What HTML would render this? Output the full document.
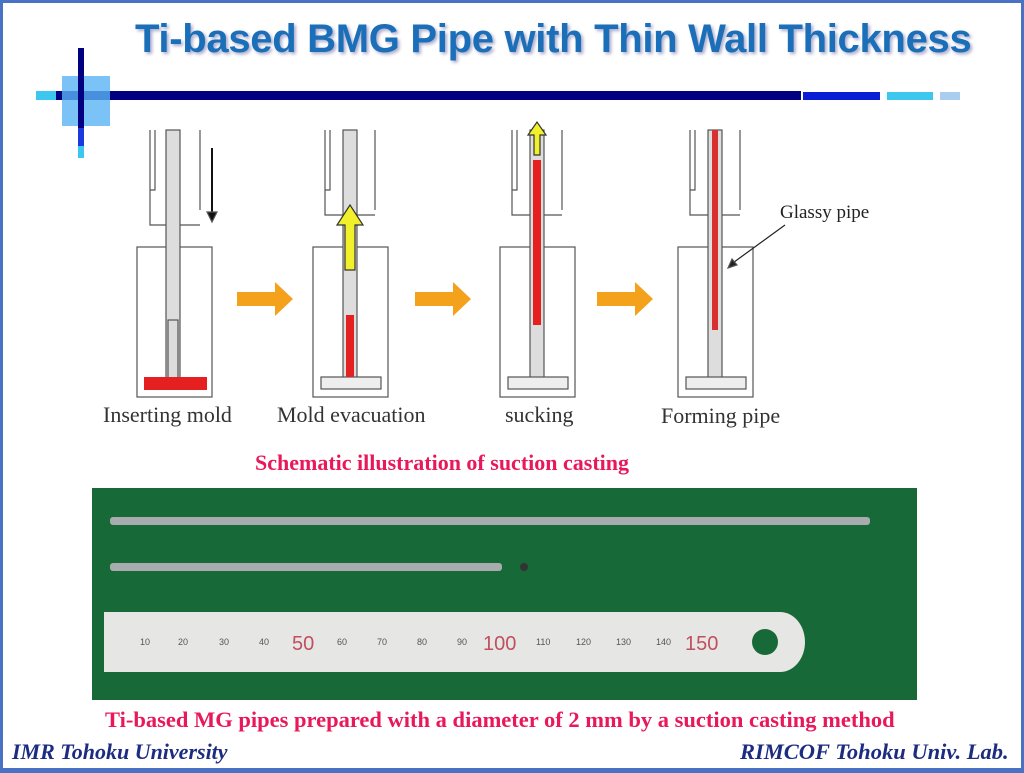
<!DOCTYPE html>
<html><head><meta charset="utf-8"><style>
body{margin:0;width:1024px;height:773px;overflow:hidden;background:#fff;font-family:"Liberation Serif",serif}
.frame{position:absolute;left:0;top:0;width:1018px;height:765px;border:3px solid #4a72c4;border-bottom-width:5px;background:#fff}
.t{position:absolute;white-space:nowrap}
</style></head><body>
<div class="frame"></div>
<div class="t" style="left:135px;top:17px;font-family:'Liberation Sans',sans-serif;font-weight:bold;font-size:40px;color:#1a6fb8;letter-spacing:-0.3px;text-shadow:2px 2px 3px #aac">Ti-based BMG Pipe with Thin Wall Thickness</div>
<svg style="position:absolute;left:0;top:0" width="1024" height="773">
<rect x="36" y="91" width="20" height="9" fill="#3dc6ee"/>
<rect x="56" y="91" width="745" height="9" fill="#000080"/>
<rect x="803" y="92" width="77" height="8" fill="#0a1ed8"/>
<rect x="887" y="92" width="46" height="8" fill="#3dc6ee"/>
<rect x="940" y="92" width="20" height="8" fill="#a8cdef"/>
<rect x="62" y="76" width="48" height="50" fill="#5ab4f4" opacity="0.8"/>
<rect x="78" y="48" width="6" height="80" fill="#000080"/>
<rect x="78" y="128" width="6" height="18" fill="#1a3ae0"/>
<rect x="78" y="146" width="6" height="12" fill="#3dc6ee"/>
<g stroke="#555" fill="none" stroke-width="1.2">
<rect x="137" y="247" width="75" height="150"/>
<path d="M150 130V190h5V130M200 130V210M150 190v35h50"/>
<rect x="166" y="130" width="14" height="250" fill="#ddd"/>
<rect x="168" y="320" width="10" height="60"/>
<path d="M212 148v70" stroke="#111" stroke-width="2"/>
<path d="M207 212l5 10 5-10z" fill="#111"/>
<rect x="144" y="377" width="63" height="13" fill="#e62020" stroke="none"/>
<rect x="313" y="247" width="75" height="150"/>
<path d="M325 130V190h5V130M375 130V210M325 190v25h50"/>
<rect x="343" y="130" width="14" height="250" fill="#ddd"/>
<rect x="321" y="377" width="60" height="12" fill="#eee"/>
<rect x="346" y="315" width="8" height="62" fill="#e62020" stroke="none"/>
<path d="M345 270v-45h-8l13-20 13 20h-8v45z" fill="#f2f02a" stroke="#333"/>
<rect x="500" y="247" width="75" height="150"/>
<path d="M512 130V190h5V130M562 130V210M512 190v25h50"/>
<rect x="530" y="130" width="14" height="250" fill="#ddd"/>
<rect x="508" y="377" width="60" height="12" fill="#eee"/>
<rect x="533" y="160" width="8" height="165" fill="#e62020" stroke="none"/>
<path d="M534 155v-20h-6l9-13 9 13h-6v20z" fill="#f2f02a" stroke="#333"/>
<rect x="678" y="247" width="75" height="150"/>
<path d="M690 130V190h5V130M740 130V210M690 190v25h50"/>
<rect x="708" y="130" width="14" height="250" fill="#ddd"/>
<rect x="686" y="377" width="60" height="12" fill="#eee"/>
<rect x="712" y="130" width="6" height="200" fill="#d83030" stroke="none"/>
<path d="M785 225l-55 40" stroke="#222"/>
<path d="M728 268l4-9 5 6z" fill="#222"/>
</g>
<g fill="#f4a11c">
<path d="M237 292h38v-10l18 17-18 17v-10h-38z"/>
<path d="M415 292h38v-10l18 17-18 17v-10h-38z"/>
<path d="M597 292h38v-10l18 17-18 17v-10h-38z"/>
</g>
<rect x="92" y="488" width="825" height="212" fill="#176a38"/>
<rect x="110" y="517" width="760" height="8" rx="3" fill="#a9acae"/>
<rect x="110" y="563" width="392" height="8" rx="3" fill="#a9acae"/>
<circle cx="524" cy="567" r="4" fill="#333"/>
<path d="M104 612H780a25 30 0 0 1 0 60H104z" fill="#e6e6e4"/>
<circle cx="765" cy="642" r="13" fill="#176a38"/>
<g font-family="Liberation Sans,sans-serif" font-size="9" fill="#555">
<text x="140" y="645">10</text><text x="178" y="645">20</text><text x="219" y="645">30</text><text x="259" y="645">40</text>
<text x="337" y="645">60</text><text x="377" y="645">70</text><text x="417" y="645">80</text><text x="457" y="645">90</text>
<text x="536" y="645">110</text><text x="576" y="645">120</text><text x="616" y="645">130</text><text x="656" y="645">140</text>
</g>
<g font-family="Liberation Sans,sans-serif" font-size="20" fill="#c05060"><text x="292" y="650">50</text><text x="483" y="650">100</text><text x="685" y="650">150</text></g>
</svg>
<div class="t" style="left:103px;top:402px;font-size:22px;color:#333">Inserting mold</div>
<div class="t" style="left:277px;top:402px;font-size:22px;color:#333">Mold evacuation</div>
<div class="t" style="left:505px;top:402px;font-size:22px;color:#333">sucking</div>
<div class="t" style="left:661px;top:403px;font-size:22px;color:#333">Forming pipe</div>
<div class="t" style="left:780px;top:202px;font-size:19px;color:#222">Glassy pipe</div>
<div class="t" style="left:255px;top:450px;font-size:22px;font-weight:bold;color:#e8185a">Schematic illustration of suction casting</div>
<div class="t" style="left:105px;top:707px;font-size:22.5px;font-weight:bold;color:#e8185a">Ti-based MG pipes prepared with a diameter of 2 mm by a suction casting method</div>
<div class="t" style="left:12px;top:739px;font-size:22px;font-weight:bold;font-style:italic;color:#1c2c80">IMR Tohoku University</div>
<div class="t" style="left:740px;top:739px;font-size:22.5px;font-weight:bold;font-style:italic;color:#1c2c80">RIMCOF Tohoku Univ. Lab.</div>
</body></html>
